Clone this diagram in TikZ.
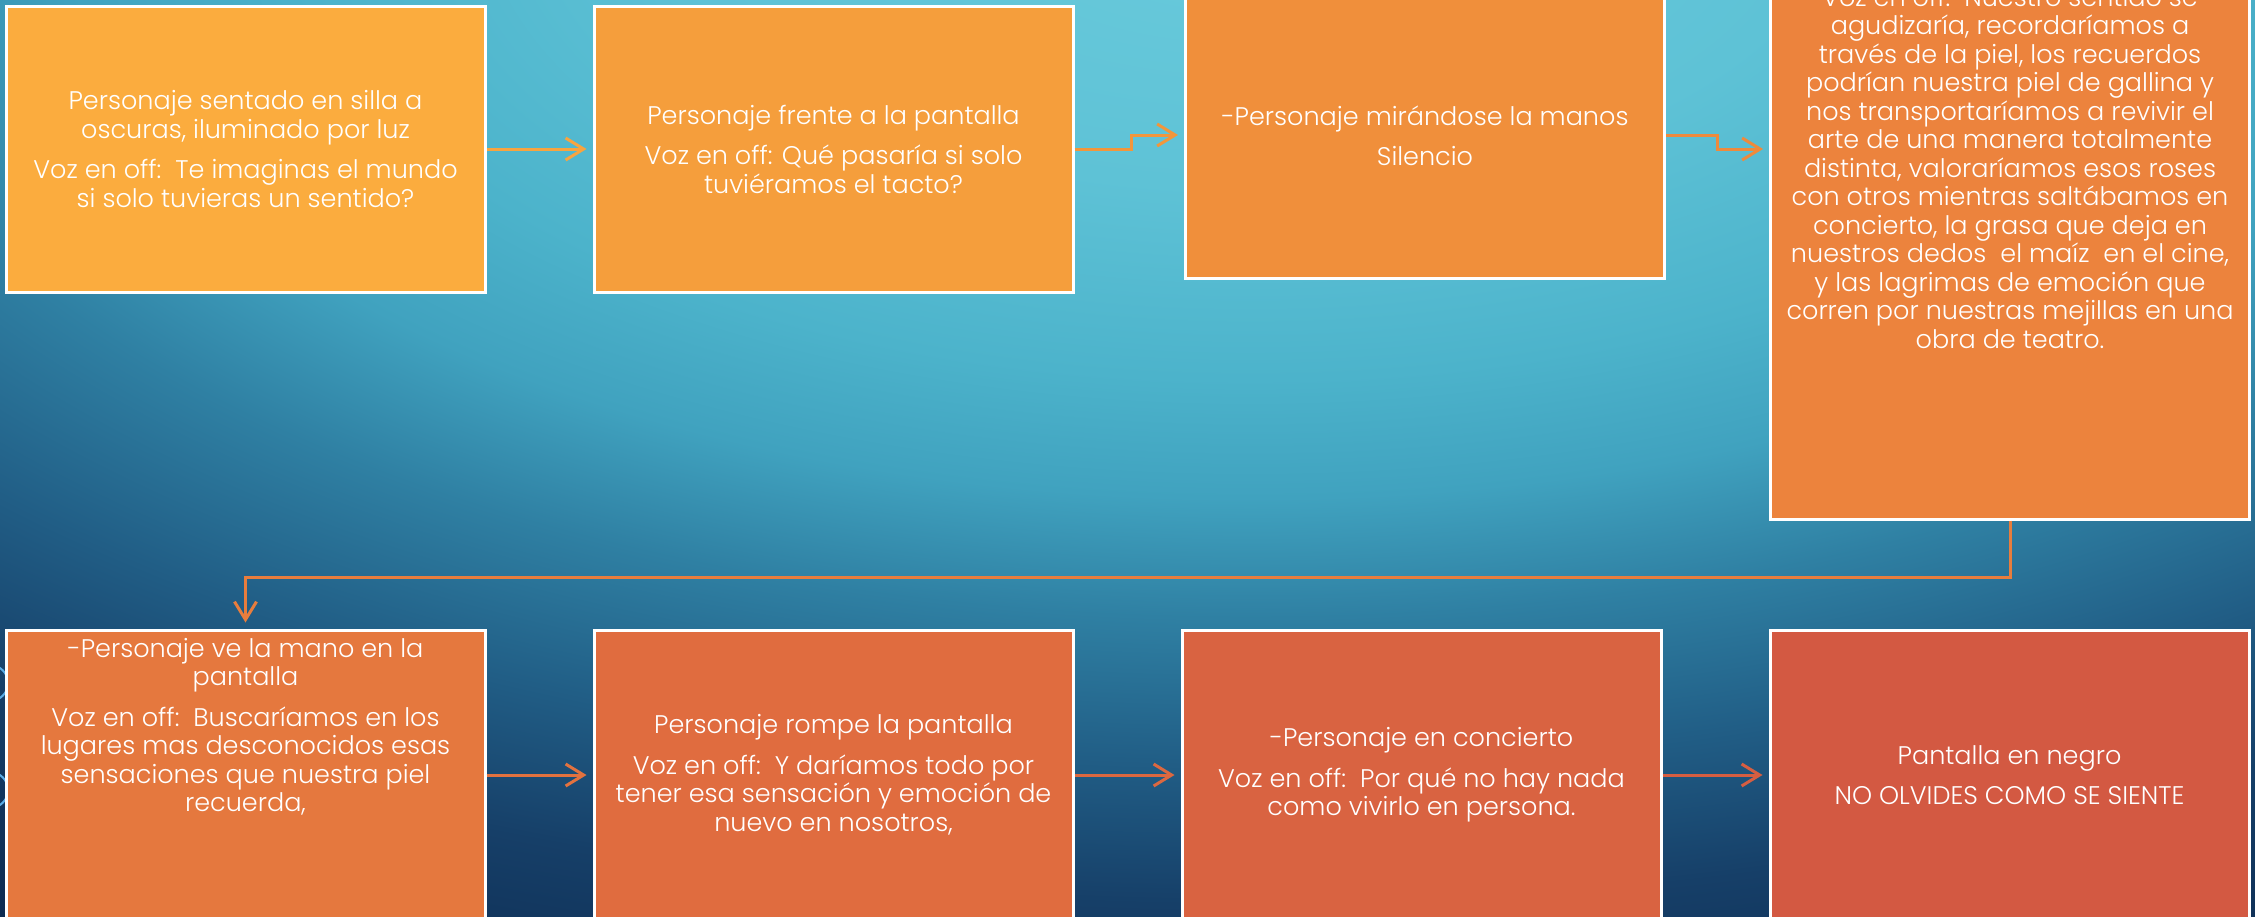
\documentclass[tikz,border=0pt]{standalone}
\usepackage{fontspec}
\setmainfont{Poppins Light}
\usetikzlibrary{arrows.meta}

\definecolor{fondoA}{HTML}{6ACBDC}
\definecolor{fondoB}{HTML}{5EC2D6}
\definecolor{fondoC}{HTML}{4CB3CB}
\definecolor{fondoD}{HTML}{40A2BF}
\definecolor{fondoE}{HTML}{2F80A3}
\definecolor{fondoF}{HTML}{215E86}
\definecolor{fondoG}{HTML}{163F68}
\definecolor{fondoH}{HTML}{0C2A50}
\definecolor{arcoazul}{HTML}{5AAEE8}
\definecolor{caja1}{HTML}{FBAC3E}
\definecolor{caja2}{HTML}{F59E3C}
\definecolor{caja3}{HTML}{F08F3B}
\definecolor{caja4}{HTML}{EC833D}
\definecolor{caja5}{HTML}{E5783E}
\definecolor{caja6}{HTML}{E06C3F}
\definecolor{caja7}{HTML}{D96341}
\definecolor{caja8}{HTML}{D35942}
\definecolor{flecha1}{HTML}{F8A43F}
\definecolor{flecha2}{HTML}{F2963B}
\definecolor{flecha3}{HTML}{EE8A3C}
\definecolor{flecha4}{HTML}{E87D3D}
\definecolor{flecha5}{HTML}{E2723F}
\definecolor{flecha6}{HTML}{DC6840}
\definecolor{flecha7}{HTML}{D65E41}

\pgfdeclareradialshading{fondo}{\pgfpoint{0bp}{0bp}}{color(0bp)=(fondoA); color(6bp)=(fondoB); color(10bp)=(fondoC); color(12.5bp)=(fondoD); color(15bp)=(fondoE); color(18bp)=(fondoF); color(21bp)=(fondoG); color(25bp)=(fondoH); color(50bp)=(fondoH)}

\tikzset{
  caja/.style={draw=white, line width=3pt, minimum width=479pt, inner sep=0pt},
  texto/.style={text=white, align=center, inner sep=0pt, font=\fontsize{25.5}{28.5}\selectfont},
  flecha/.style={line width=3pt, -{Straight Barb[length=18pt,width=22pt]}, shorten >=6pt},
  arco/.style={arcoazul, line width=2pt}
}

\begin{document}
\begin{tikzpicture}[x=1pt,y=-1pt]
\useasboundingbox (0,0) rectangle (2255,916);
\clip (0,0) rectangle (2255,916);
\begin{scope}[transform canvas={yscale=0.46}]
\shade[shading=fondo] (1250,-217) ellipse [x radius=2400pt, y radius=2600pt];
\end{scope}
\draw[arco] (-10,683) circle [radius=18pt];
\draw[arco] (-10,790) circle [radius=18pt];

% cajas de arriba
\node[caja, fill=caja1, minimum height=286pt] (b1) at (245.5,149) {};
\node[caja, fill=caja2, minimum height=286pt] (b2) at (833.5,149) {};
\node[caja, fill=caja3, minimum height=286pt] (b3) at (1425,135) {};
\node[caja, fill=caja4, minimum height=719pt] (b4) at (2010,159.5) {};
% cajas de abajo
\node[caja, fill=caja5, minimum height=290pt] (b5) at (245.5,775) {};
\node[caja, fill=caja6, minimum height=290pt] (b6) at (833.5,775) {};
\node[caja, fill=caja7, minimum height=290pt] (b7) at (1421.5,775) {};
\node[caja, fill=caja8, minimum height=290pt] (b8) at (2009.5,775) {};

\node[texto] (t1) at (b1.center) {Personaje sentado en silla a\\oscuras, iluminado por luz\\[12pt]Voz en off:\ \ Te imaginas el mundo\\si solo tuvieras un sentido?};
\node[texto] (t2) at (b2.center) {Personaje frente a la pantalla\\[12pt]Voz en off: Qué pasaría si solo\\tuviéramos el tacto?};
\node[texto] (t3) at ([yshift=-1pt]b3.center) {-Personaje mirándose la manos\\[12pt]Silencio};
\node[texto] (t4) at ([yshift=-8pt]b4.center) {Voz en off:\ \ Nuestro sentido se\\agudizaría, recordaríamos a\\través de la piel, los recuerdos\\podrían nuestra piel de gallina y\\nos transportaríamos a revivir el\\arte de una manera totalmente\\distinta, valoraríamos esos roses\\con otros mientras saltábamos en\\concierto, la grasa que deja en\\nuestros dedos\ \ el maíz\ \ en el cine,\\y las lagrimas de emoción que\\corren por nuestras mejillas en una\\obra de teatro.};
\node[texto] (t5) at ([yshift=48pt]b5.center) {-Personaje ve la mano en la\\pantalla\\[12pt]Voz en off:\ \ Buscaríamos en los\\lugares mas desconocidos esas\\sensaciones que nuestra piel\\recuerda,};
\node[texto] (t6) at (b6.center) {Personaje rompe la pantalla\\[12pt]Voz en off:\ \ Y daríamos todo por\\tener esa sensación y emoción de\\nuevo en nosotros,};
\node[texto] (t7) at (b7.center) {-Personaje en concierto\\[12pt]Voz en off:\ \ Por qué no hay nada\\como vivirlo en persona.};
\node[texto] (t8) at (b8.center) {Pantalla en negro\\[12pt]NO OLVIDES COMO SE SIENTE};

% flechas
\draw[flecha, flecha1] (b1.east) -- (b2.west);
\draw[flecha, flecha2] (b2.east) -- ++(57,0) |- (b3.west);
\draw[flecha, flecha3] (b3.east) -- ++(51,0) |- (b4.west |- b1.east);
\draw[flecha, flecha4] (b4.south) -- ++(0,57) -| (b5.north);
\draw[flecha, flecha5] (b5.east) -- (b6.west);
\draw[flecha, flecha6] (b6.east) -- (b7.west);
\draw[flecha, flecha7] (b7.east) -- (b8.west);
\end{tikzpicture}
\end{document}
